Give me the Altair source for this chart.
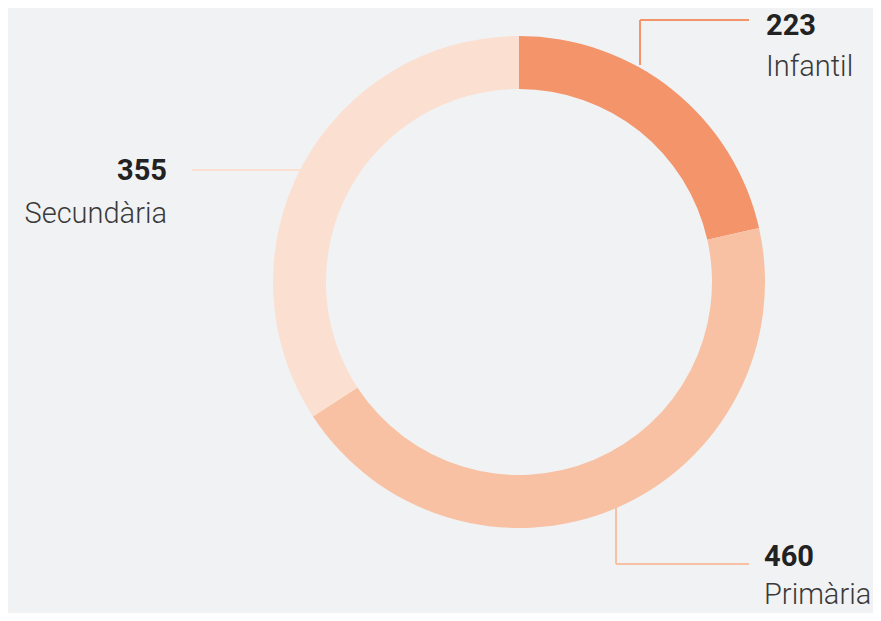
import altair as alt
import pandas as pd

# Data
categories = ["Infantil", "Primària", "Secundària"]
values = [223, 460, 355]
colors = ["#F3946A", "#F8C1A3", "#FBE0D2"]

# Layout (chart pixel coordinates) for annotations
W, H = 865, 605
CX, CY = 511, 274
R_OUT, R_IN = 246, 193

donut_df = pd.DataFrame({"cat": categories, "value": values, "order": [0, 1, 2]})

# leader segments: x, y, x2, y2
leaders = pd.DataFrame({
    "cat": ["Infantil", "Infantil", "Primària", "Primària", "Secundària"],
    "x":  [632, 632, 608, 608, 184],
    "y":  [57, 12, 497, 556, 162],
    "x2": [632, 741, 608, 741, 292],
    "y2": [12, 12, 556, 556, 162],
})

num_labels = pd.DataFrame({
    "text": [str(v) for v in values],
    "x": [758, 756, 159],
    "y": [27, 558, 172],
    "align": ["left", "left", "right"],
})
cat_labels = pd.DataFrame({
    "text": categories,
    "x": [758, 756, 159],
    "y": [68, 596, 215],
    "align": ["left", "left", "right"],
})

xs = alt.Scale(domain=[0, W], range=[0, W], nice=False, zero=False)
ys = alt.Scale(domain=[0, H], range=[0, H], nice=False, zero=False)
color_scale = alt.Scale(domain=categories, range=colors)

donut = alt.Chart(donut_df).mark_arc(
    outerRadius=R_OUT, innerRadius=R_IN, stroke=None
).encode(
    theta=alt.Theta("value:Q", stack=True),
    order=alt.Order("order:Q"),
    color=alt.Color("cat:N", scale=color_scale, legend=None),
    x=alt.value(CX),
    y=alt.value(CY),
)

rules = alt.Chart(leaders).mark_rule(strokeWidth=2).encode(
    x=alt.X("x:Q", scale=xs, axis=None),
    y=alt.Y("y:Q", scale=ys, axis=None),
    x2="x2:Q",
    y2="y2:Q",
    color=alt.Color("cat:N", scale=color_scale, legend=None),
)

def text_layer(df, weight, color, align):
    return alt.Chart(df[df["align"] == align]).mark_text(
        font="Roboto", fontSize=29, fontWeight=weight, color=color,
        align=align, baseline="alphabetic",
    ).encode(
        x=alt.X("x:Q", scale=xs, axis=None),
        y=alt.Y("y:Q", scale=ys, axis=None),
        text="text:N",
    )

layers = [donut, rules]
for a in ["left", "right"]:
    layers.append(text_layer(num_labels, 700, "#222222", a))
    layers.append(text_layer(cat_labels, 300, "#3a3a3a", a))

chart = alt.layer(*layers).properties(
    width=W, height=H, background="#F1F2F4",
    autosize=alt.AutoSizeParams(type="none"), padding=0,
).configure_view(stroke=None)

chart.save("out.html", embed_options={"renderer": "svg", "actions": False})
